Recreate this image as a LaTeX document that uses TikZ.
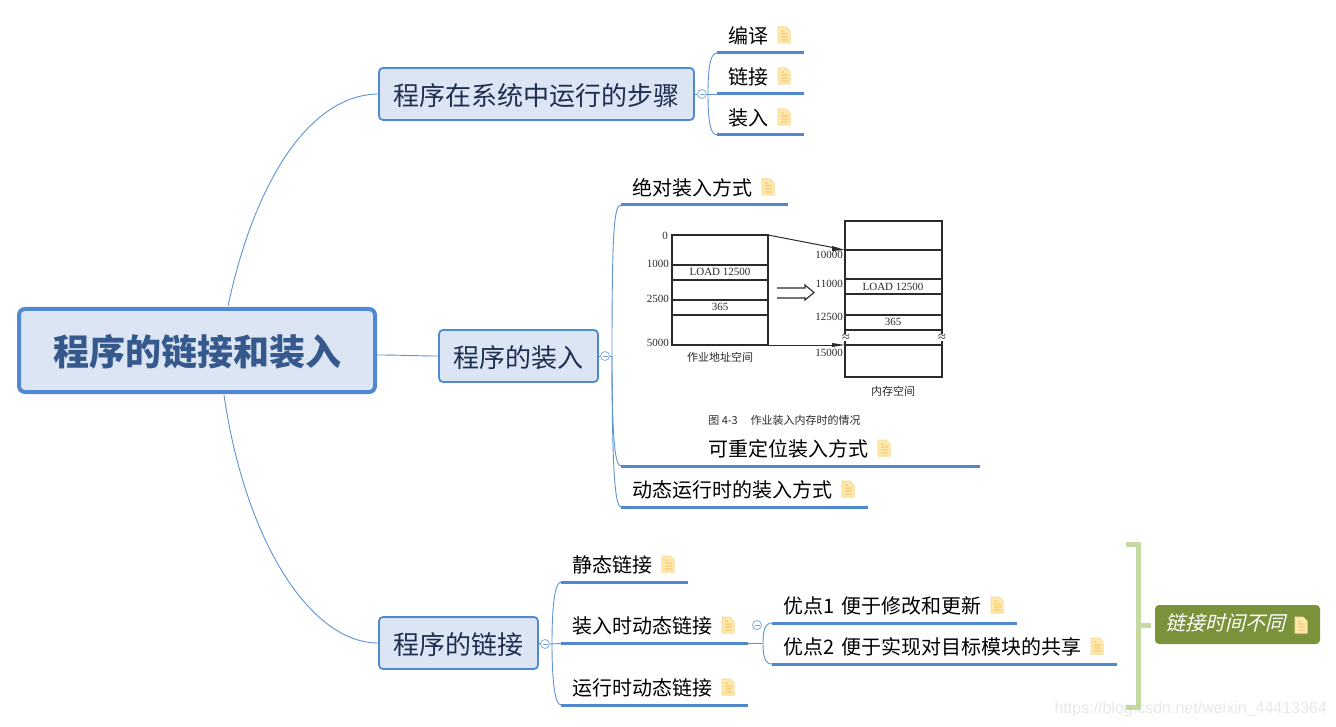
\documentclass[tikz,border=0pt]{standalone}
\usepackage{fontspec}
\setmainfont{Noto Sans CJK SC}
\newfontfamily\slantcjk[FakeSlant=0.25]{Noto Sans CJK SC}
\newfontfamily\latinserif{Liberation Serif}
\newfontfamily\latinsans{Liberation Sans}
\definecolor{mainblue}{HTML}{5089D0}
\definecolor{thinblue}{HTML}{5D93D6}
\definecolor{boxfill}{HTML}{DBE5F3}
\definecolor{rootink}{HTML}{35598C}
\definecolor{topicink}{HTML}{1F2F50}
\definecolor{notefill}{HTML}{FFE9AE}
\definecolor{noteline}{HTML}{F8DC96}
\definecolor{brk}{HTML}{C7D8A1}
\definecolor{olive}{HTML}{7A933B}
\definecolor{scan}{HTML}{2B2B2B}
\newcommand{\lowered}[1]{\raisebox{-1.5pt}[\height][\depth]{#1}}
\tikzset{
 rootbox/.style={draw=mainblue,line width=4pt,fill=boxfill,rounded corners=6pt,text=rootink,font=\fontsize{36}{40}\selectfont\bfseries,minimum width=356pt,minimum height=83pt,inner sep=0pt},
 topic/.style={draw=mainblue,line width=1.8pt,fill=boxfill,rounded corners=4pt,text=topicink,font=\fontsize{26}{30}\selectfont,minimum height=52pt,inner sep=0pt},
 leaf/.style={anchor=south west,inner sep=0pt,minimum height=30pt,minimum width=#1,align=left,font=\fontsize{20}{24}\selectfont,text=black,text depth=4pt},
 uline/.style={draw=mainblue,line width=3pt},
 wire/.style={draw=thinblue,line width=0.9pt},
 collapse/.style={circle,draw=mainblue!70,fill=white,line width=0.8pt,minimum size=9pt,inner sep=0pt,path picture={\draw[mainblue!80,line width=0.7pt] ([xshift=-2.5pt]path picture bounding box.center)--([xshift=2.5pt]path picture bounding box.center);}},
 scanlab/.style={font=\latinserif\fontsize{11}{12}\selectfont,text=scan,inner sep=0pt},
 scancap/.style={font=\fontsize{11}{12}\selectfont,text=scan,inner sep=0pt},
 scanline/.style={draw=scan,line width=1.3pt},
 note/.pic={
  \fill[notefill] (-6,-8)--(2,-8)--(6,-4)--(6,8)--(-6,8)--cycle;
  \draw[noteline,line width=1pt] (-6,-8)--(2,-8)--(6,-4)--(6,8)--(-6,8)--cycle;
  \draw[noteline!90!orange,line width=1.2pt] (-3.5,-1)--(3.5,-1) (-3.5,2)--(3.5,2) (-3.5,5)--(3.5,5) (-3.5,-4)--(0,-4);
 }
}
\begin{document}
\begin{tikzpicture}[x=1pt,y=-1pt]
\useasboundingbox (0,0) rectangle (1336,727);
\fill[white] (0,0) rectangle (1336,727);

% watermark
\node[anchor=east,inner sep=0pt,font=\latinsans\fontsize{16}{20}\selectfont,text=black!9] (wm) at (1327,709) {https://blog.csdn.net/weixin\_44413364};

% main nodes
\node[rootbox] (root) at (197,350.5) {\lowered{程序的链接和装入}};
\node[topic,minimum width=315pt] (ta) at (536.5,94) {\lowered{程序在系统中运行的步骤}};
\node[topic,minimum width=159pt] (tb) at (518.5,356) {\lowered{程序的装入}};
\node[topic,minimum width=159pt] (tc) at (458.5,643) {\lowered{程序的链接}};

% root connectors
\coordinate (rtop) at (228,306);
\coordinate (rbot) at (224,395);
\coordinate (rside) at (377,355);
\draw[wire] (rtop) .. controls (255,180) and (310,95) .. (ta.west);
\draw[wire] (rside) .. controls (400,355) and (420,356) .. (tb.west);
\draw[wire] (rbot) .. controls (245,540) and (310,643) .. (tc.west);

% collapse markers
\node[collapse] (ca) at (702,94) {};
\node[collapse] (cb) at (605,356) {};
\node[collapse] (cc) at (545,644) {};

% leaves A
\node[leaf=87pt,text width=76pt,xshift=11pt,minimum width=76pt] (a1) at (717,52) {编译};
\node[leaf=87pt,text width=76pt,xshift=11pt,minimum width=76pt] (a2) at (717,93) {链接};
\node[leaf=87pt,text width=76pt,xshift=11pt,minimum width=76pt] (a3) at (717,134) {装入};
\coordinate (a1s) at (717,53); \coordinate (a1e) at (804,53);
\coordinate (a2s) at (717,94); \coordinate (a2e) at (804,94);
\coordinate (a3s) at (717,135); \coordinate (a3e) at (804,135);
\draw[uline] (a1s)--(a1e); \draw[uline] (a2s)--(a2e); \draw[uline] (a3s)--(a3e);
\draw[wire] (ta.east)--(ca.west);
\draw[wire] (ca.east)--(a2s);
\draw[wire] (708,94) .. controls (708,64) and (711,53) .. (a1s);
\draw[wire] (708,94) .. controls (708,124) and (711,135) .. (a3s);
\pic at (784,35) {note}; \pic at (784,76) {note}; \pic at (784,117) {note};

% leaves B
\node[leaf=10pt,xshift=11pt] (b1) at (621,204) {绝对装入方式};
\node[leaf=10pt,xshift=87pt] (b2) at (621,465) {可重定位装入方式};
\node[leaf=10pt,xshift=11pt] (b3) at (621,506) {动态运行时的装入方式};
\coordinate (b1s) at (621,205); \coordinate (b1e) at (788,205);
\coordinate (b2s) at (621,466); \coordinate (b2e) at (980,466);
\coordinate (b3s) at (621,507); \coordinate (b3e) at (868,507);
\draw[uline] (b1s)--(b1e); \draw[uline] (b2s)--(b2e); \draw[uline] (b3s)--(b3e);
\draw[wire] (tb.east)--(cb.west);
\draw[wire] (cb.east)--(612,356);
\draw[wire] (612,356) .. controls (612,230) and (614,205) .. (b1s);
\draw[wire] (612,356) .. controls (612,440) and (615,466) .. (b2s);
\draw[wire] (612,356) .. controls (612,470) and (615,507) .. (b3s);
\pic at (768,187) {note}; \pic at (884,448) {note}; \pic at (848,489) {note};

% scanned figure
\draw[scanline] (672,235) rectangle (768,345);
\foreach \y in {265,280,300,315} \draw[scanline] (672,\y)--(768,\y);
\draw[scanline] (845,221) rectangle (942,377);
\foreach \y in {250,279,294,315,330,345} \draw[scanline] (845,\y)--(942,\y);
\draw[scan,line width=1pt] (768,235)--(838,248.5);
\fill[scan] (845,250)--(832,246)--(832,251)--cycle;
\draw[scan,line width=1pt] (768,345)--(838,345);
\fill[scan] (845,345)--(832,343)--(832,347)--cycle;
\draw[scan,line width=1.1pt] (777,288)--(805,288)--(805,285)--(814,292.5)--(805,300)--(805,298)--(777,298);
\node[scanlab,anchor=east] (l0) at (668,236) {0};
\node[scanlab,anchor=east] (l1) at (669,264) {1000};
\node[scanlab,anchor=east] (l2) at (669,298.5) {2500};
\node[scanlab,anchor=east] (l3) at (669,343) {5000};
\node[scanlab] (la) at (720,272) {LOAD 12500};
\node[scanlab] (lb) at (720,307) {365};
\node[scanlab] (lc) at (893,287) {LOAD 12500};
\node[scanlab] (ld) at (893,322) {365};
\node[scanlab,anchor=east] (m0) at (843,255) {10000};
\node[scanlab,anchor=east] (m1) at (843,284) {11000};
\node[scanlab,anchor=east] (m2) at (843,317) {12500};
\node[scanlab,anchor=east] (m3) at (843,353) {15000};
\node[scanlab,font=\latinserif\fontsize{14}{14}\selectfont,fill=white] (w1) at (846,337.5) {≈};
\node[scanlab,font=\latinserif\fontsize{14}{14}\selectfont,fill=white] (w2) at (942,337.5) {≈};
\node[scancap] (cap1) at (720,357) {作业地址空间};
\node[scancap] (cap2) at (893,391) {内存空间};
\node[scancap] (cap3) at (784.5,420) {图 4-3\quad\,作业装入内存时的情况};

% leaves C
\node[leaf=10pt,xshift=11pt] (c1) at (561,581) {静态链接};
\node[leaf=10pt,xshift=11pt] (c2) at (561,642) {装入时动态链接};
\node[leaf=10pt,xshift=11pt] (c3) at (561,704) {运行时动态链接};
\coordinate (c1s) at (561,582); \coordinate (c1e) at (688,582);
\coordinate (c2s) at (561,643.5); \coordinate (c2e) at (748,643.5);
\coordinate (c3s) at (561,705); \coordinate (c3e) at (748,705);
\draw[uline] (c1s)--(c1e); \draw[uline] (c2s)--(c2e); \draw[uline] (c3s)--(c3e);
\draw[wire] (tc.east)--(cc.west);
\draw[wire] (cc.east)--(c2s);
\draw[wire] (552,643.5) .. controls (552,605) and (555,582) .. (c1s);
\draw[wire] (552,643.5) .. controls (552,682) and (555,705) .. (c3s);
\pic at (668,564) {note}; \pic at (728,625) {note}; \pic at (728,687) {note};

% sub leaves
\node[collapse] (cd) at (757,625) {};
\node[leaf=10pt,xshift=11pt] (d1) at (772,622) {优点1\hspace{3pt} 便于修改和更新};
\node[leaf=10pt,xshift=11pt] (d2) at (772,663) {优点2\hspace{3pt} 便于实现对目标模块的共享};
\coordinate (d1s) at (772,623); \coordinate (d1e) at (1017,623);
\coordinate (d2s) at (772,664); \coordinate (d2e) at (1117,664);
\draw[uline] (d1s)--(d1e); \draw[uline] (d2s)--(d2e);
\coordinate (dj) at (763,643.5);
\draw[wire] (c2e)--(dj);
\draw[wire] (dj) .. controls (763,630) and (765,623) .. (d1s);
\draw[wire] (dj) .. controls (763,657) and (765,664) .. (d2s);
\pic at (997,605) {note}; \pic at (1097,646) {note};

% summary bracket and label
\node[draw=none,fill=olive,rounded corners=4pt,minimum width=165pt,minimum height=39pt,inner sep=0pt,text=white,font=\slantcjk\fontsize{20}{24}\selectfont,text depth=4pt] (sum) at (1237.5,624.5) {\hspace*{-24pt}链接时间不同};
\coordinate (btop) at (1126,544);
\coordinate (bbot) at (1126,707);
\coordinate (bmid) at (1138,625);
\coordinate (bstub) at (1151,625);
\draw[brk,line width=5pt] (btop)-|(bmid)|-(bbot);
\draw[brk,line width=5pt] (bmid)--(bstub);
\pic at (1301,625) {note};
\end{tikzpicture}
\end{document}
